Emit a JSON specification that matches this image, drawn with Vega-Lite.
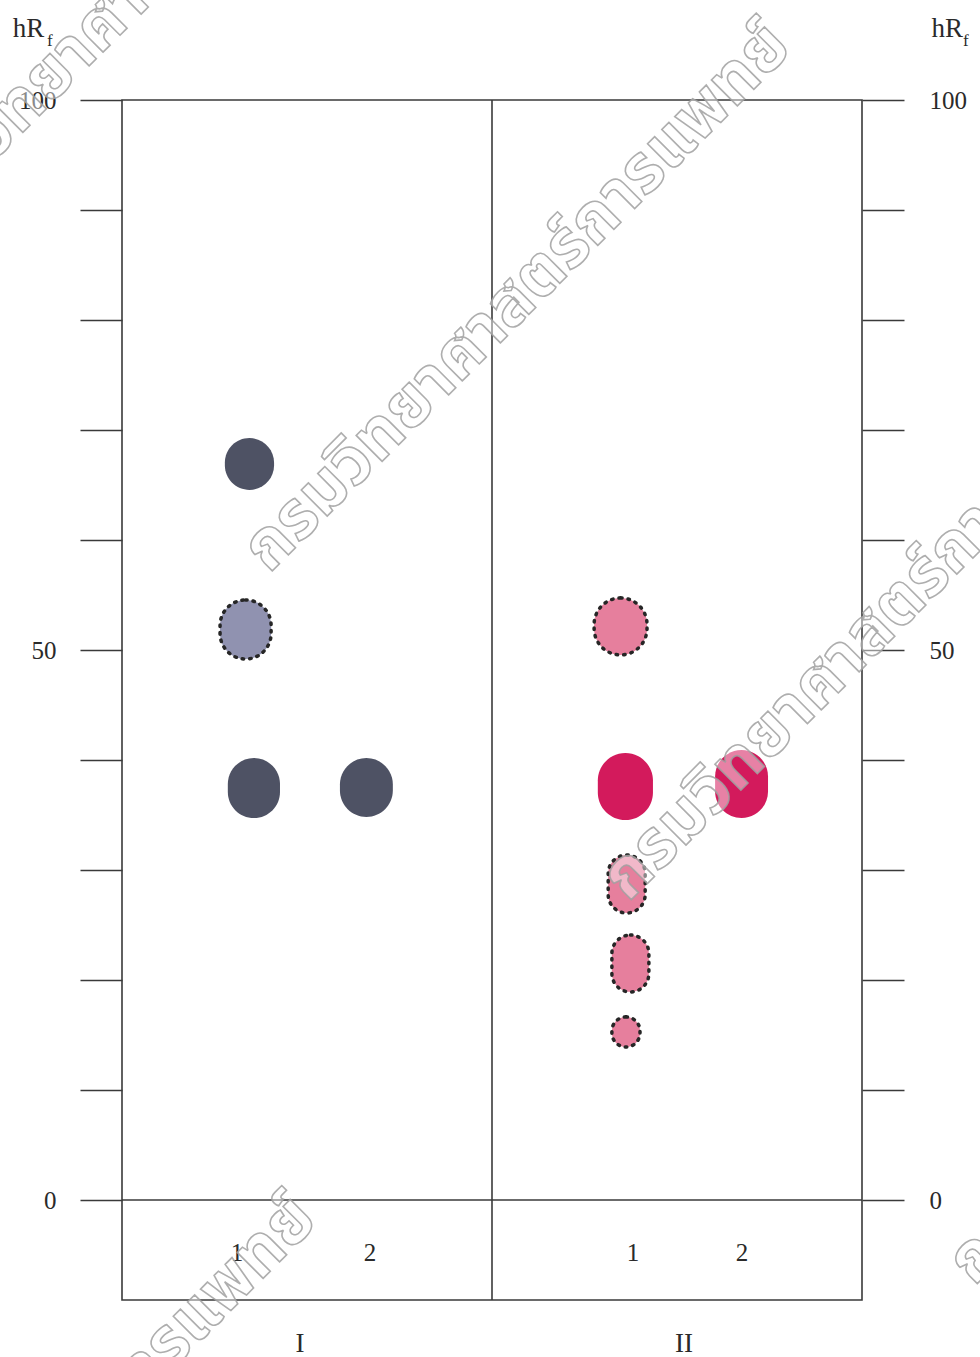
{
  "$schema": "https://vega.github.io/schema/vega-lite/v6.json",
  "width": 740,
  "height": 1200,
  "autosize": {"type": "none"},
  "padding": {"left": 122, "top": 100, "right": 118, "bottom": 57},
  "background": "white",
  "config": {"view": {"stroke": "#3a3a3a", "strokeWidth": 1.6}, "font": "Liberation Serif"},
  "datasets": {
    "spots": [
      {"plate": "I", "lane": 1, "x1": 2.78, "x2": 4.11, "h1": 64.55, "h2": 69.27, "stain": "dark", "dashed": false},
      {"plate": "I", "lane": 1, "x1": 2.65, "x2": 4.03, "h1": 49.18, "h2": 54.55, "stain": "light", "dashed": true},
      {"plate": "I", "lane": 1, "x1": 2.86, "x2": 4.27, "h1": 34.73, "h2": 40.18, "stain": "dark", "dashed": false},
      {"plate": "I", "lane": 2, "x1": 5.89, "x2": 7.32, "h1": 34.82, "h2": 40.18, "stain": "dark", "dashed": false},
      {"plate": "II", "lane": 1, "x1": 12.76, "x2": 14.19, "h1": 49.55, "h2": 54.73, "stain": "pale", "dashed": true},
      {"plate": "II", "lane": 1, "x1": 12.86, "x2": 14.35, "h1": 34.55, "h2": 40.64, "stain": "strong", "dashed": false},
      {"plate": "II", "lane": 2, "x1": 16.03, "x2": 17.46, "h1": 34.73, "h2": 40.91, "stain": "strong", "dashed": false},
      {"plate": "II", "lane": 1, "x1": 13.14, "x2": 14.14, "h1": 26.09, "h2": 31.36, "stain": "pale", "dashed": true},
      {"plate": "II", "lane": 1, "x1": 13.24, "x2": 14.24, "h1": 18.91, "h2": 24.09, "stain": "pale", "dashed": true},
      {"plate": "II", "lane": 1, "x1": 13.24, "x2": 14.0, "h1": 13.91, "h2": 16.64, "stain": "pale", "dashed": true}
    ],
    "lanes": [
      {"label": "1", "x": 3.11, "hRf": -4.82},
      {"label": "2", "x": 6.7, "hRf": -4.82},
      {"label": "1", "x": 13.81, "hRf": -4.82},
      {"label": "2", "x": 16.76, "hRf": -4.82}
    ],
    "plates": [
      {"label": "I", "x": 4.81, "hRf": -13.1},
      {"label": "II", "x": 15.19, "hRf": -13.1}
    ],
    "titles": [
      {"sym": "hR", "sub": "f", "x": -2.95, "xs": -2.03, "hRf": 105.7, "hs": 104.9},
      {"sym": "hR", "sub": "f", "x": 21.88, "xs": 22.73, "hRf": 105.7, "hs": 104.9}
    ],
    "marks": [
      {"text": "กรมวิทยาศาสตร์การแพทย์", "x": 3.6, "hRf": 58.2},
      {"text": "กรมวิทยาศาสตร์การแพทย์", "x": 13.3, "hRf": 28.3},
      {"text": "กรมวิทยาศาสตร์การแพทย์", "x": -6.11, "hRf": 88.1},
      {"text": "กรมวิทยาศาสตร์การแพทย์", "x": -9.22, "hRf": -48.4},
      {"text": "กรมวิทยาศาสตร์การแพทย์", "x": 22.65, "hRf": -6.6}
    ]
  },
  "layer": [
    {
      "data": {"name": "spots"},
      "mark": {"type": "rect", "cornerRadius": 60},
      "encoding": {
        "x": {"field": "x1", "type": "quantitative", "scale": {"domain": [0, 20], "nice": false, "zero": false}, "axis": null},
        "x2": {"field": "x2"},
        "y": {"field": "h1", "type": "quantitative", "scale": {"domain": [-9.0909, 100], "nice": false, "zero": false},
          "axis": {"orient": "left", "values": [0, 10, 20, 30, 40, 50, 60, 70, 80, 90, 100], "tickSize": 42, "tickColor": "#3a3a3a", "tickWidth": 1.6, "domain": false, "grid": false, "title": null, "labelExpr": "datum.value % 50 === 0 ? datum.label : ''", "labelFont": "Liberation Serif", "labelFontSize": 25, "labelColor": "#2a2a2a", "labelPadding": 24, "labelOverlap": false, "labelBound": false, "labelFlush": false}},
        "y2": {"field": "h2"},
        "fill": {"field": "stain", "type": "nominal", "legend": null,
          "scale": {"domain": ["dark", "light", "strong", "pale"], "range": ["#4e5264", "#9092b0", "#d31a5c", "#e67f9d"]}}
      }
    },
    {
      "data": {"name": "spots"},
      "transform": [{"filter": "datum.dashed"}],
      "mark": {"type": "rect", "cornerRadius": 60, "filled": false, "stroke": "#262626", "strokeWidth": 3.5, "strokeDash": [1.5, 6], "strokeCap": "round"},
      "encoding": {
        "x": {"field": "x1", "type": "quantitative", "scale": {"domain": [0, 20], "nice": false, "zero": false}, "axis": null},
        "x2": {"field": "x2"},
        "y": {"field": "h1", "type": "quantitative", "scale": {"domain": [-9.0909, 100], "nice": false, "zero": false}, "axis": null},
        "y2": {"field": "h2"}
      }
    },
    {
      "data": {"values": [{"hRf": 0}]},
      "mark": {"type": "rule", "color": "#3a3a3a", "strokeWidth": 1.6},
      "encoding": {
        "y": {"field": "hRf", "type": "quantitative", "scale": {"domain": [-9.0909, 100], "nice": false, "zero": false},
          "axis": {"orient": "right", "values": [0, 10, 20, 30, 40, 50, 60, 70, 80, 90, 100], "tickSize": 42, "tickColor": "#3a3a3a", "tickWidth": 1.6, "domain": false, "grid": false, "title": null, "labelExpr": "datum.value % 50 === 0 ? datum.label : ''", "labelFont": "Liberation Serif", "labelFontSize": 25, "labelColor": "#2a2a2a", "labelPadding": 25, "labelOverlap": false, "labelBound": false, "labelFlush": false}}
      }
    },
    {
      "data": {"values": [{"x": 10}]},
      "mark": {"type": "rule", "color": "#3a3a3a", "strokeWidth": 1.6},
      "encoding": {
        "x": {"field": "x", "type": "quantitative", "scale": {"domain": [0, 20], "nice": false, "zero": false}, "axis": null}
      }
    },
    {
      "data": {"name": "lanes"},
      "mark": {"type": "text", "font": "Liberation Serif", "fontSize": 25, "color": "#2a2a2a", "align": "center", "baseline": "middle"},
      "encoding": {
        "x": {"field": "x", "type": "quantitative", "scale": {"domain": [0, 20], "nice": false, "zero": false}, "axis": null},
        "y": {"field": "hRf", "type": "quantitative", "scale": {"domain": [-9.0909, 100], "nice": false, "zero": false}, "axis": null},
        "text": {"field": "label"}
      }
    },
    {
      "data": {"name": "plates"},
      "mark": {"type": "text", "font": "Liberation Serif", "fontSize": 27, "color": "#2a2a2a", "align": "center", "baseline": "middle"},
      "encoding": {
        "x": {"field": "x", "type": "quantitative", "scale": {"domain": [0, 20], "nice": false, "zero": false}, "axis": null},
        "y": {"field": "hRf", "type": "quantitative", "scale": {"domain": [-9.0909, 100], "nice": false, "zero": false}, "axis": null},
        "text": {"field": "label"}
      }
    },
    {
      "data": {"name": "titles"},
      "mark": {"type": "text", "font": "Liberation Serif", "fontSize": 27, "color": "#2a2a2a", "align": "left", "baseline": "alphabetic"},
      "encoding": {
        "x": {"field": "x", "type": "quantitative", "scale": {"domain": [0, 20], "nice": false, "zero": false}, "axis": null},
        "y": {"field": "hRf", "type": "quantitative", "scale": {"domain": [-9.0909, 100], "nice": false, "zero": false}, "axis": null},
        "text": {"field": "sym"}
      }
    },
    {
      "data": {"name": "titles"},
      "mark": {"type": "text", "font": "Liberation Serif", "fontSize": 17, "color": "#2a2a2a", "align": "left", "baseline": "alphabetic"},
      "encoding": {
        "x": {"field": "xs", "type": "quantitative", "scale": {"domain": [0, 20], "nice": false, "zero": false}, "axis": null},
        "y": {"field": "hs", "type": "quantitative", "scale": {"domain": [-9.0909, 100], "nice": false, "zero": false}, "axis": null},
        "text": {"field": "sub"}
      }
    },
    {
      "data": {"name": "marks"},
      "mark": {"type": "text", "font": "Noto Sans Thai", "fontSize": 67, "fontWeight": "bold", "angle": -45, "align": "left", "baseline": "middle", "fill": "#ffffff", "fillOpacity": 0.45, "stroke": "#a0a0a0", "strokeWidth": 1.6, "strokeOpacity": 0.85},
      "encoding": {
        "x": {"field": "x", "type": "quantitative", "scale": {"domain": [0, 20], "nice": false, "zero": false}, "axis": null},
        "y": {"field": "hRf", "type": "quantitative", "scale": {"domain": [-9.0909, 100], "nice": false, "zero": false}, "axis": null},
        "text": {"field": "text"}
      }
    }
  ],
  "resolve": {"axis": {"y": "independent"}}
}
